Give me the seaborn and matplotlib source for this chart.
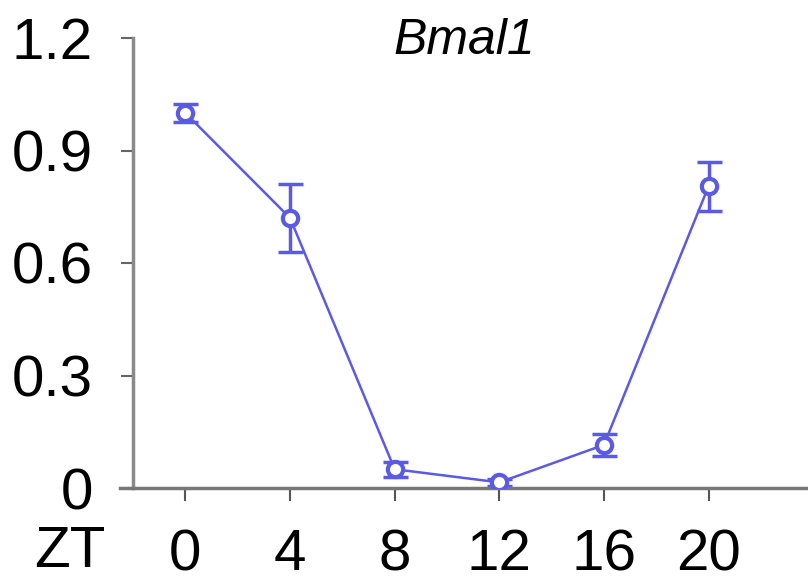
import numpy as np
import pandas as pd
import matplotlib
matplotlib.use('Agg')
import matplotlib.pyplot as plt
import matplotlib.transforms as mtransforms
import seaborn as sns

# Bmal1 expression over zeitgeber time
zt = [0, 4, 8, 12, 16, 20]
expr = [1.0, 0.72, 0.05, 0.015, 0.115, 0.805]
err = [0.025, 0.09, 0.02, 0.01, 0.03, 0.065]
yticks = [0, 0.3, 0.6, 0.9, 1.2]
ytick_labels = ['0', '0.3', '0.6', '0.9', '1.2']

blue = '#5a5ae6'

sns.set_theme(style='white')
plt.rcParams['font.family'] = ['Liberation Sans', 'DejaVu Sans']
plt.rcParams['text.color'] = 'black'

fig = plt.figure(figsize=(8.08, 5.84), dpi=100)
ax = fig.add_axes([120 / 808, 96 / 584, 688 / 808, 450 / 584])

df = pd.DataFrame({'ZT': zt, 'expr': expr})
ax.errorbar(zt, expr, yerr=err, fmt='none', ecolor=blue, elinewidth=2.5,
            capsize=9, capthick=2.5, zorder=2)
sns.lineplot(data=df, x='ZT', y='expr', ax=ax, color=blue, linewidth=1.8,
             marker='o', markersize=11, markerfacecolor='white',
             markeredgecolor=blue, markeredgewidth=3, zorder=3)

ax.set_xlim(-2.5, 23.8)
ax.set_ylim(0, 1.2)
ax.set_xticks(zt)
ax.set_xticklabels([str(v) for v in zt])
ax.set_yticks(yticks)
ax.set_yticklabels(ytick_labels)
ax.set_xlabel('')
ax.set_ylabel('')

for s in ['top', 'right']:
    ax.spines[s].set_visible(False)
ax.spines['left'].set_position(('data', -2.0))
ax.spines['left'].set_color('#8a8a8a')
ax.spines['bottom'].set_color('#777777')
ax.spines['left'].set_linewidth(2.5)
ax.spines['bottom'].set_linewidth(2.5)

ax.tick_params(axis='y', direction='out', length=9, width=1.5, color='#666666',
               pad=20, labelsize=42, labelcolor='black', left=True)
ax.tick_params(axis='x', direction='out', length=9, width=1.5, color='#555555',
               pad=20, labelsize=42, labelcolor='black', bottom=True)

trans = mtransforms.blended_transform_factory(ax.transData, ax.transAxes)
ax.text(-4.4, -0.143, 'ZT', transform=trans, fontsize=42, ha='center',
        va='center', color='black')

ax.set_title('Bmal1', fontsize=36, style='italic', color='black', pad=0, y=0.965)

fig.savefig('out.png', dpi=100)
